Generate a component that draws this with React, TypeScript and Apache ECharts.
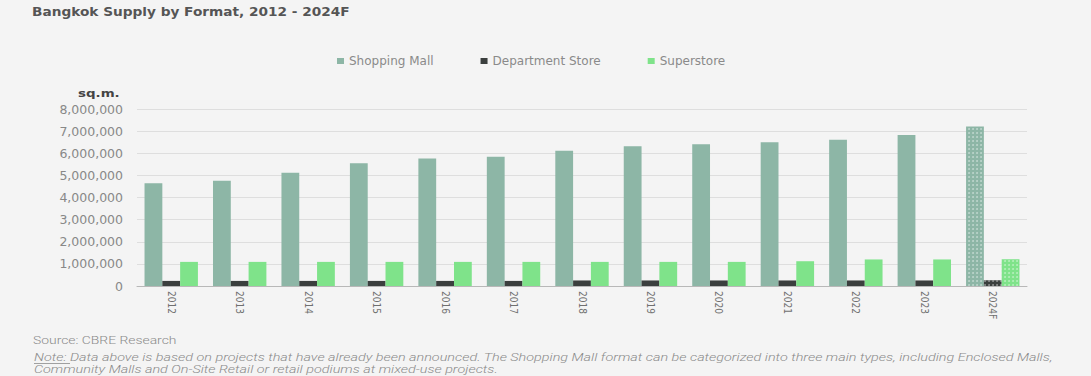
import React, { useEffect, useRef } from "react";
import * as echarts from "echarts";

const categories = ["2012", "2013", "2014", "2015", "2016", "2017", "2018", "2019", "2020", "2021", "2022", "2023", "2024F"];
const shoppingMall = [4640000, 4760000, 5120000, 5550000, 5760000, 5840000, 6110000, 6320000, 6410000, 6500000, 6610000, 6830000, 7210000];
const departmentStore = [230000, 230000, 230000, 230000, 230000, 230000, 250000, 250000, 250000, 250000, 250000, 250000, 260000];
const superstore = [1090000, 1090000, 1090000, 1090000, 1090000, 1090000, 1090000, 1090000, 1090000, 1120000, 1200000, 1200000, 1210000];
const seriesNames = ["Shopping Mall", "Department Store", "Superstore"];
const forecastIndex = 12;

const titleText = "Bangkok Supply by Format, 2012 - 2024F";
const unitText = "sq.m.";
const sourceText = "Source: CBRE Research";
const noteLabel = "Note:";
const noteLine1 = "Data above is based on projects that have already been announced. The Shopping Mall format can be categorized into three main types, including Enclosed Malls,";
const noteLine2 = "Community Malls and On-Site Retail or retail podiums at mixed-use projects.";

const colors = ["#8db6a6", "#3b3f3e", "#7fe38a"];

const decal = {
  symbol: "circle",
  symbolSize: 0.9,
  dashArrayX: 1.6,
  dashArrayY: 1.6,
  color: "rgba(255,255,255,0.45)",
};

function withDecal(values: number[]) {
  return values.map((v, i) => (i === forecastIndex ? { value: v, itemStyle: { decal } } : v));
}

export default function App() {
  const ref = useRef<HTMLDivElement>(null);
  useEffect(() => {
    document.body.style.margin = "0";
    if (!ref.current) return;
    const chart = echarts.init(ref.current, null, { renderer: "svg" });
    const footFont = "Roboto, 'Liberation Sans', sans-serif";
    const footStyle = {
      fontFamily: footFont,
      fontWeight: 300,
      fontSize: 10,
      fill: "#8a8a8a",
      textVerticalAlign: "middle",
    };
    chart.setOption({
      animation: false,
      backgroundColor: "#f4f4f4",
      color: colors,
      legend: {
        data: seriesNames,
        left: 332,
        top: 50,
        icon: "rect",
        itemWidth: 7,
        itemHeight: 6,
        itemGap: 47,
        textStyle: { fontFamily: "'DejaVu Sans', sans-serif", fontSize: 12, color: "#8a8a8a" },
      },
      grid: { left: 137, right: 64, top: 109, bottom: 90 },
      xAxis: {
        type: "category",
        data: categories,
        axisTick: { show: false },
        axisLine: { lineStyle: { color: "#b8b8b8" } },
        axisLabel: {
          rotate: -90,
          margin: 5,
          fontFamily: "'Liberation Sans Narrow', 'DejaVu Sans Condensed', sans-serif",
          fontSize: 10,
          color: "#707070",
        },
      },
      yAxis: {
        type: "value",
        min: 0,
        max: 8000000,
        interval: 1000000,
        axisLine: { show: false },
        axisTick: { show: false },
        splitLine: { lineStyle: { color: "#dedede" } },
        axisLabel: {
          margin: 14,
          fontFamily: "'DejaVu Sans', sans-serif",
          fontSize: 12.5,
          color: "#888",
          formatter: (v: number) => v.toLocaleString("en-US"),
        },
      },
      series: [
        { name: seriesNames[0], type: "bar", data: withDecal(shoppingMall), barGap: "0%", barCategoryGap: "22%" },
        { name: seriesNames[1], type: "bar", data: withDecal(departmentStore), barGap: "0%", barCategoryGap: "22%" },
        { name: seriesNames[2], type: "bar", data: withDecal(superstore), barGap: "0%", barCategoryGap: "22%" },
      ],
      graphic: [
        {
          type: "text",
          x: 32,
          y: 12,
          scaleX: 1.14,
          style: {
            text: titleText,
            fontFamily: "'DejaVu Sans', sans-serif",
            fontWeight: "bold",
            fontSize: 12,
            fill: "#555",
            textVerticalAlign: "middle",
          },
        },
        {
          type: "text",
          x: 78,
          y: 93,
          scaleX: 1.22,
          style: {
            text: unitText,
            fontFamily: "'DejaVu Sans', sans-serif",
            fontWeight: "bold",
            fontSize: 11,
            fill: "#444",
            textVerticalAlign: "middle",
          },
        },
        {
          type: "text",
          x: 33,
          y: 341,
          scaleX: 1.39,
          style: { ...footStyle, text: sourceText },
        },
        {
          type: "text",
          x: 34,
          y: 358,
          scaleX: 1.44,
          style: { ...footStyle, fontStyle: "italic", text: noteLabel + " " + noteLine1 },
        },
        {
          type: "line",
          shape: { x1: 34, y1: 363.5, x2: 70, y2: 363.5 },
          style: { stroke: "#8a8a8a", lineWidth: 0.8 },
        },
        {
          type: "text",
          x: 34,
          y: 370,
          scaleX: 1.44,
          style: { ...footStyle, fontStyle: "italic", text: noteLine2 },
        },
      ],
    });
    return () => chart.dispose();
  }, []);
  return <div ref={ref} style={{ width: 1091, height: 376 }} />;
}
